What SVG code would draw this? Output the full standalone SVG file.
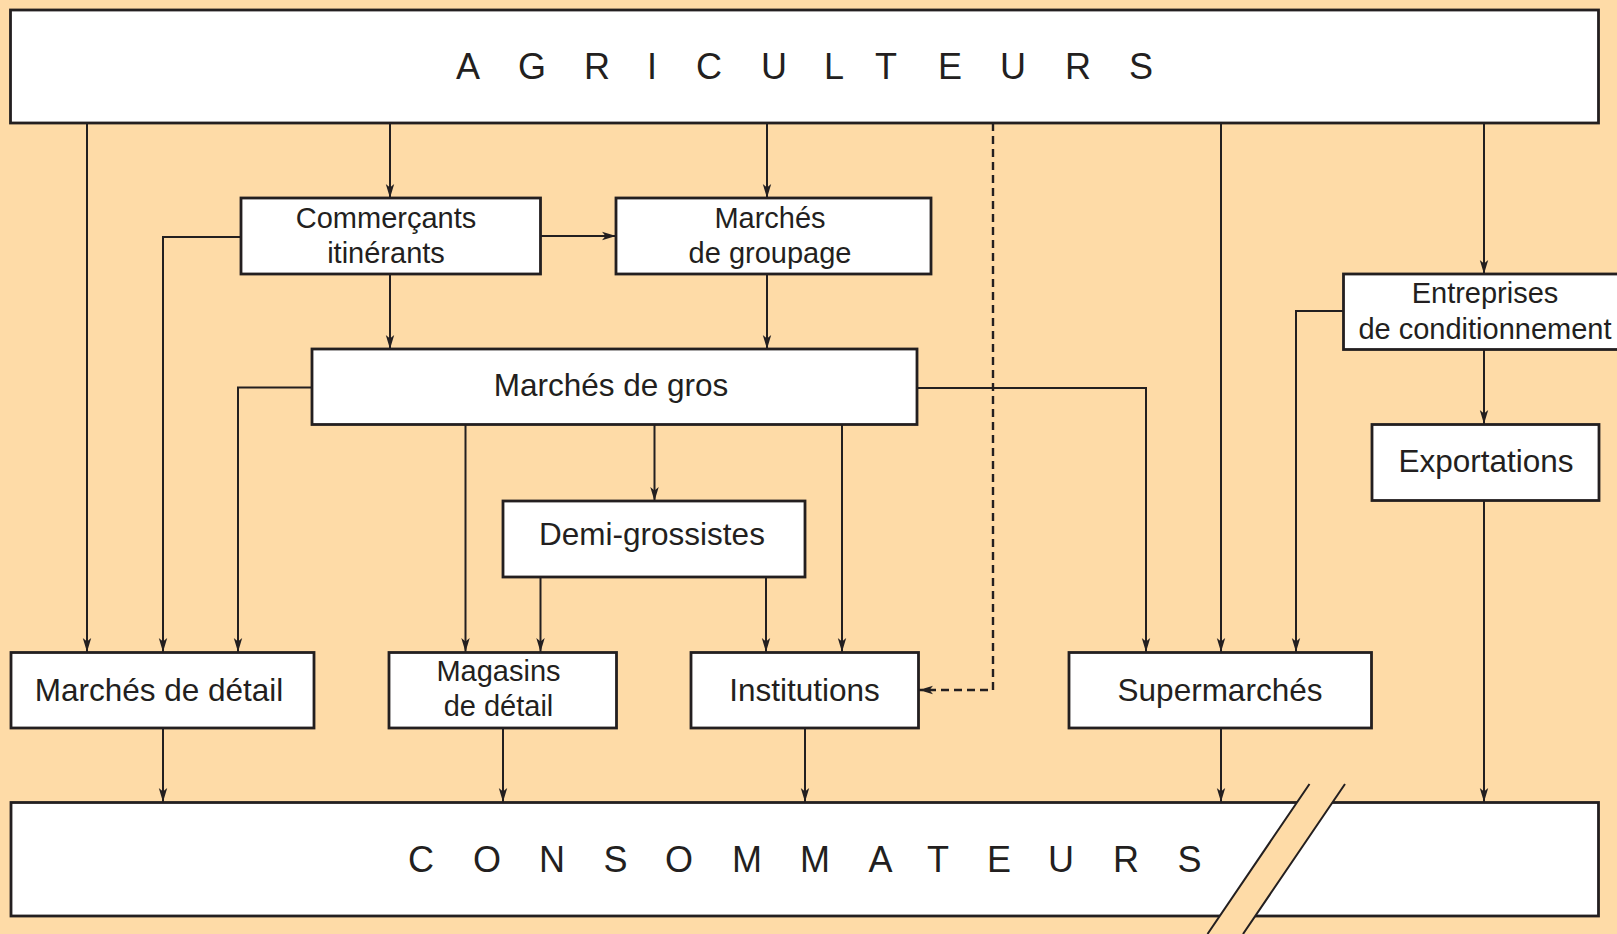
<svg xmlns="http://www.w3.org/2000/svg" width="1617" height="934" viewBox="0 0 1617 934">
<style>
.box{fill:#fff;stroke:#231f20;stroke-width:2.8}
.ln{fill:none;stroke:#231f20;stroke-width:2;marker-end:url(#arr)}
.dash{fill:none;stroke:#231f20;stroke-width:2.4;stroke-dasharray:8 5;marker-end:url(#arr)}
.t{font-family:"Liberation Sans",Arial,Helvetica,sans-serif;fill:#231f20;text-anchor:middle}
.l1{font-size:31.5px}
.l2{font-size:29px}
.big{font-size:36px}
</style>
<defs>
<marker id="arr" markerUnits="userSpaceOnUse" markerWidth="15" markerHeight="10" viewBox="0 0 15 10" refX="14" refY="5" orient="auto">
<path d="M0,0.8 L14,5 L0,9.2 L3.5,5 Z" fill="#231f20"/>
</marker>
</defs>
<rect x="0" y="0" width="1617" height="934" fill="#fedba7"/>

<g id="connectors">
<path class="ln" d="M87,123 V652"/>
<path class="ln" d="M390,123 V198"/>
<path class="ln" d="M767,123 V198"/>
<path class="dash" d="M993,123 V690 H919"/>
<path class="ln" d="M1221,123 V652"/>
<path class="ln" d="M1484,123 V274"/>
<path class="ln" d="M540,236 H616"/>
<path class="ln" d="M241,237 H163 V652"/>
<path class="ln" d="M390,274 V349"/>
<path class="ln" d="M767,274 V349"/>
<path class="ln" d="M312,387.5 H238 V652"/>
<path class="ln" d="M465.5,424 V652"/>
<path class="ln" d="M654.5,424 V501"/>
<path class="ln" d="M842,424 V652"/>
<path class="ln" d="M917,388 H1146 V652"/>
<path class="ln" d="M540.5,577 V652"/>
<path class="ln" d="M766,577 V652"/>
<path class="ln" d="M1343,311 H1296 V652"/>
<path class="ln" d="M1484,349 V424"/>
<path class="ln" d="M1484,500 V802"/>
<path class="ln" d="M163,728 V802"/>
<path class="ln" d="M503,728 V802"/>
<path class="ln" d="M805,728 V802"/>
<path class="ln" d="M1221,728 V802"/>
</g>

<g id="agriculteurs">
<rect class="box" x="10.5" y="10" width="1588" height="113"/>
<text class="t big" x="468 532 597 652 709 774 834 886 950 1013 1078 1141" y="79">AGRICULTEURS</text>
</g>

<g id="commercants">
<rect class="box" x="241" y="198" width="299.5" height="76"/>
<text class="t l2" x="386" y="228">Commerçants</text>
<text class="t l2" x="386" y="263">itinérants</text>
</g>

<g id="groupage">
<rect class="box" x="616" y="198" width="315" height="76"/>
<text class="t l2" x="770" y="228">Marchés</text>
<text class="t l2" x="770" y="263">de groupage</text>
</g>

<g id="gros">
<rect class="box" x="312" y="349" width="605" height="75.5"/>
<text class="t l1" x="611" y="396">Marchés de gros</text>
</g>

<g id="conditionnement">
<rect class="box" x="1343.5" y="274" width="290" height="75.5"/>
<text class="t l2" x="1485" y="303">Entreprises</text>
<text class="t l2" x="1485" y="339">de conditionnement</text>
</g>

<g id="exportations">
<rect class="box" x="1372" y="424.5" width="227" height="76"/>
<text class="t l1" x="1486" y="471.5">Exportations</text>
</g>

<g id="demi">
<rect class="box" x="503" y="501" width="302" height="76"/>
<text class="t l1" x="652" y="545">Demi-grossistes</text>
</g>

<g id="marches-detail">
<rect class="box" x="11" y="652.5" width="303" height="75.5"/>
<text class="t l1" x="159" y="701">Marchés de détail</text>
</g>

<g id="magasins">
<rect class="box" x="389" y="652.5" width="227.5" height="75.5"/>
<text class="t l2" x="498.5" y="681">Magasins</text>
<text class="t l2" x="498.5" y="716">de détail</text>
</g>

<g id="institutions">
<rect class="box" x="691" y="652.5" width="227.5" height="75.5"/>
<text class="t l1" x="804.5" y="701">Institutions</text>
</g>

<g id="supermarches">
<rect class="box" x="1069" y="652.5" width="302.5" height="75.5"/>
<text class="t l1" x="1220" y="701">Supermarchés</text>
</g>

<g id="consommateurs">
<rect class="box" x="11" y="802.5" width="1587.5" height="113.5"/>
<text class="t big" x="421 487 552 615.5 679 747 815 880.5 938 999 1061 1126 1189.5" y="872">CONSOMMATEURS</text>
<polygon points="1309.5,784 1345,784 1243,934 1207.5,934" fill="#fedba7"/>
<path d="M1309.5,784 L1207.5,934 M1345,784 L1243,934" fill="none" stroke="#231f20" stroke-width="2"/>
</g>
</svg>
